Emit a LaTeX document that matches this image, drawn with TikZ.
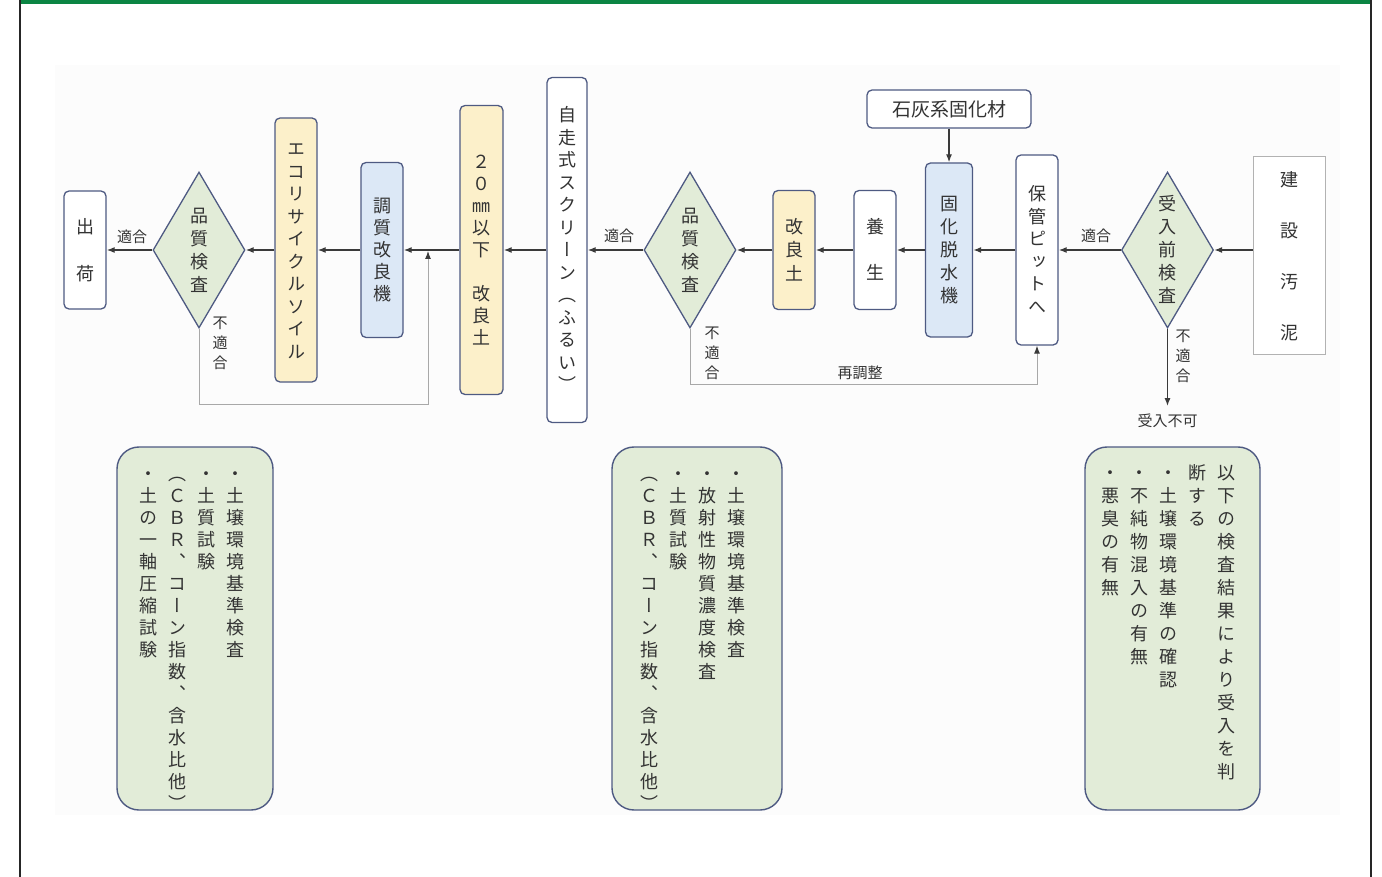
\documentclass[tikz,border=0pt]{standalone}
\usepackage{fontspec}
\setmainfont{Noto Sans CJK JP}
\newfontfamily\tatefont[RawFeature=+vert]{Noto Sans CJK JP}
\usetikzlibrary{shapes.geometric,arrows.meta}

\definecolor{ink}{HTML}{333333}
\definecolor{boxline}{HTML}{4E5A82}
\definecolor{yelfill}{HTML}{FCF0CA}
\definecolor{blufill}{HTML}{DCE8F6}
\definecolor{grnfill}{HTML}{E2ECD8}
\definecolor{flowline}{HTML}{3A3A3A}
\definecolor{backline}{HTML}{A8A8A8}
\definecolor{barfill}{HTML}{0B8543}

% vertical (tategaki) column: one character per line
\makeatletter
\newcommand\tate[2][23pt]{\vtop{\tatefont\baselineskip=#1\relax
  \lineskiplimit=-100pt\lineskip=0pt
  \@tfor\tatech:=#2\do{\hbox to 1em{\hss\vrule width 0pt height .88em depth .12em\tatech\hss}}}}
\makeatother

\begin{document}
\begin{tikzpicture}[x=1pt,y=-1pt,
    proc/.style={draw=boxline,line width=1.3pt,rounded corners=5pt,inner sep=0pt,
      minimum width=42pt,text=ink,font=\fontsize{18}{23}\selectfont},
    plainbox/.style={proc,fill=white},
    yelbox/.style={proc,fill=yelfill},
    blubox/.style={proc,fill=blufill},
    check/.style={diamond,aspect=0.6,draw=boxline,line width=1.3pt,fill=grnfill,
      inner sep=0pt,minimum width=92pt,minimum height=156pt,text=ink,
      font=\fontsize{18}{23}\selectfont},
    memo/.style={draw=boxline,line width=1.4pt,rounded corners=22pt,fill=grnfill,
      minimum height=363pt},
    memotext/.style={anchor=north east,inner sep=0pt,text=ink,font=\fontsize{18}{22}\selectfont},
    lbl/.style={inner sep=1pt,text=ink,font=\fontsize{15}{19}\selectfont},
    flow/.style={draw=flowline,line width=1.3pt,-{Latex[length=8pt,width=6pt]}},
    back/.style={draw=backline,line width=1pt,-{Latex[length=8pt,width=6pt,color=flowline]}}]

  % frame
  \useasboundingbox (0,0) rectangle (1382,877);
  \fill[black!1] (55,65) rectangle (1340,815);
  \fill[barfill] (19,0) rectangle (1372,4.5);
  \draw[black!85,line width=2pt] (20,0) -- (20,877) (1371,0) -- (1371,877);

  \draw
    (85,250) node[plainbox,minimum height=118pt] (ship){\tate[47pt]{出荷}}
    (199,250) node[check] (qc1){\tate{品質検査}}
    (296,250) node[yelbox,minimum height=264pt] (eco){\tate[22.5pt]{エコリサイクルソイル}}
    (382,250) node[blubox,minimum height=175pt] (mixer){\tate[22pt]{調質改良機}}
    (481.5,250) node[yelbox,minimum width=43pt,minimum height=289pt] (soil20){\tate[22pt]{２０㎜以下　改良土}}
    (567,250) node[plainbox,minimum width=40pt,minimum height=345pt] (screen){\tate[22.5pt]{自走式スクリーン（ふるい）}}
    (690,250) node[check] (qc2){\tate{品質検査}}
    (794,250) node[yelbox,minimum height=119pt] (soil){\tate[23.5pt]{改良土}}
    (875,250) node[plainbox,minimum height=119pt] (cure){\tate[46pt]{養生}}
    (949,250) node[blubox,minimum width=47pt,minimum height=174pt] (dewater){\tate{固化脱水機}}
    (949,109) node[plainbox,minimum width=164pt,minimum height=38pt,font=\fontsize{19}{22}\selectfont] (lime){石灰系固化材}
    (1037,250) node[plainbox,minimum height=190pt] (pit){\tate[22.5pt]{保管ピットへ}}
    (1167.5,250) node[check] (qc0){\tate{受入前検査}}
    (1289,256) node[draw=black!30,line width=1pt,fill=white,text=ink,inner sep=0pt,
      minimum width=72pt,minimum height=198pt,font=\fontsize{18}{23}\selectfont] (sludge){\tate[51pt]{建設汚泥}};

  \node[lbl] (okL) at (132,237) {適合};
  \node[lbl] (okC) at (619,236) {適合};
  \node[lbl] (okR) at (1096,236) {適合};
  \node[lbl] (ngL) at (220,343) {\tate[20pt]{不適合}};
  \node[lbl] (ngC) at (712,353) {\tate[20pt]{不適合}};
  \node[lbl] (ngR) at (1183,356) {\tate[20pt]{不適合}};
  \node[lbl] (readj) at (860,373) {再調整};
  \node[lbl,outer sep=7pt] (reject) at (1167.5,421) {受入不可};

  \begin{scope}[flow]
    \draw (sludge.west |- qc0) -- (qc0);
    \draw (qc0) -- (pit);
    \draw (pit) -- (dewater);
    \draw (dewater) -- (cure);
    \draw (cure) -- (soil);
    \draw (soil) -- (qc2);
    \draw (qc2) -- (screen);
    \draw (screen) -- (soil20);
    \draw (soil20) -- (mixer);
    \draw (mixer) -- (eco);
    \draw (eco) -- (qc1);
    \draw (qc1) -- (ship);
    \draw (lime) -- (dewater);
    \draw (qc0) -- (reject);
  \end{scope}

  % return loops
  \coordinate (joinL) at (428,251);
  \coordinate (loopL) at (428,404);
  \draw[back] (qc1.south) |- (loopL) -- (joinL);
  \coordinate (loopM) at (1037,384);
  \draw[back] (qc2.south) |- (loopM) -- (pit.south);

  % check items
  \node[memo,minimum width=156pt] (memoL) at (195,628.5) {};
  \node[memo,minimum width=170pt] (memoC) at (697,628.5) {};
  \node[memo,minimum width=175pt] (memoR) at (1172.5,628.5) {};
  \node[memotext] (memoLtxt) at (245,464) {\tate[22pt]{・土の一軸圧縮試験}\hskip11pt\tate[22pt]{（ＣＢＲ、コーン指数、含水比他）}\hskip11pt\tate[22pt]{・土質試験}\hskip11pt\tate[22pt]{・土壌環境基準検査}};
  \node[memotext] (memoCtxt) at (746,464) {\tate[22pt]{（ＣＢＲ、コーン指数、含水比他）}\hskip11pt\tate[22pt]{・土質試験}\hskip11pt\tate[22pt]{・放射性物質濃度検査}\hskip11pt\tate[22pt]{・土壌環境基準検査}};
  \node[memotext] (memoRtxt) at (1236,463) {\tate{・悪臭の有無}\hskip11pt\tate{・不純物混入の有無}\hskip11pt\tate{・土壌環境基準の確認}\hskip11pt\tate{断する}\hskip11pt\tate{以下の検査結果により受入を判}};
\end{tikzpicture}
\end{document}
